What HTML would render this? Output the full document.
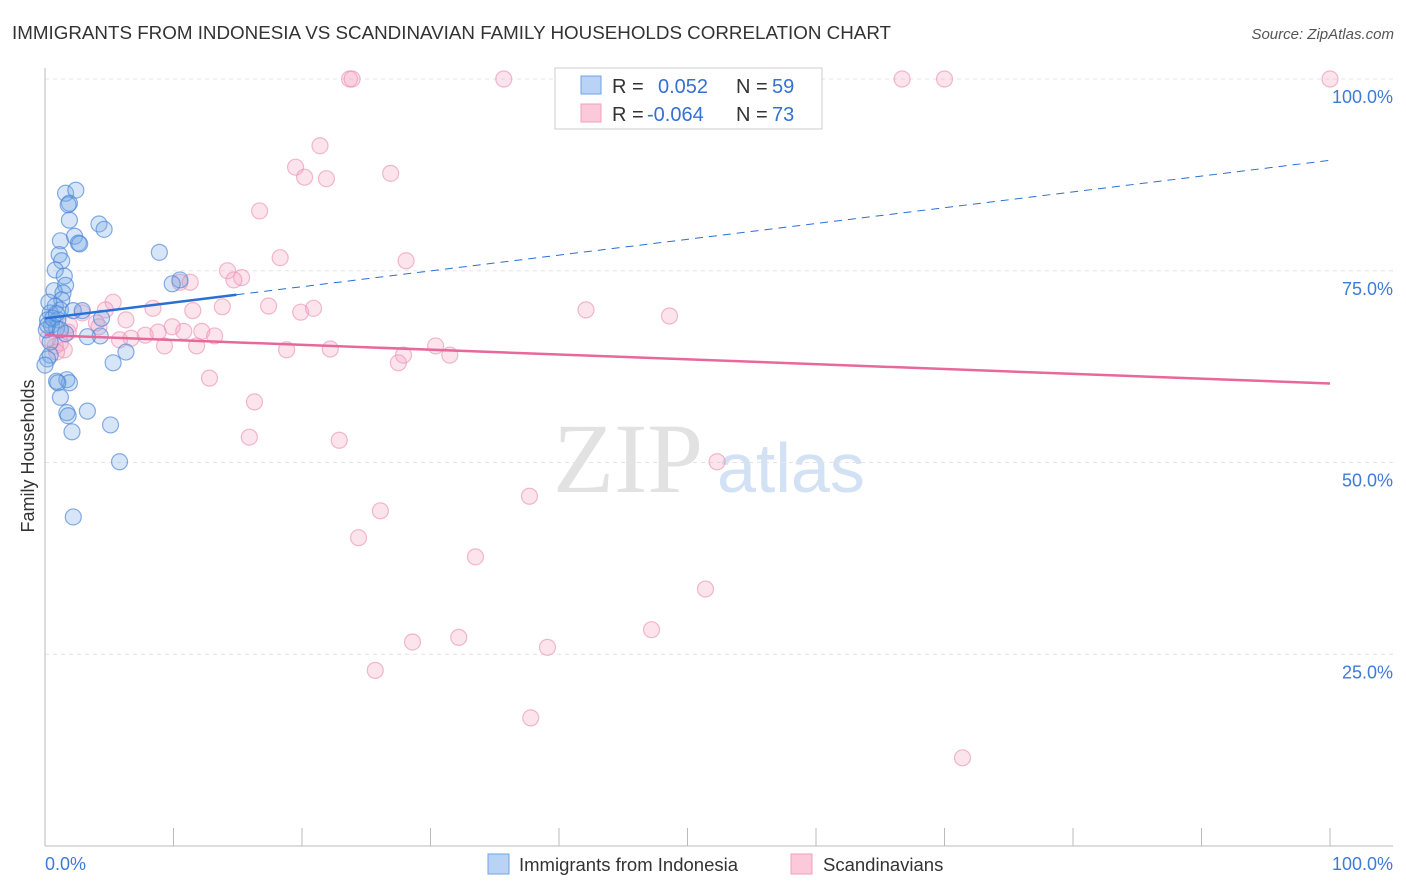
<!DOCTYPE html>
<html><head><meta charset="utf-8"><style>
body{margin:0;background:#fff;font-family:"Liberation Sans",sans-serif;}
svg{display:block}
</style></head><body>
<svg id="c" width="1406" height="892" xmlns="http://www.w3.org/2000/svg">
<text x="12" y="39" font-size="18.8" fill="#333">IMMIGRANTS FROM INDONESIA VS SCANDINAVIAN FAMILY HOUSEHOLDS CORRELATION CHART</text>
<text x="1394" y="39" font-size="15" fill="#555" font-style="italic" text-anchor="end">Source: ZipAtlas.com</text>
<text x="0" y="0" transform="translate(34,456) rotate(-90)" font-size="18" fill="#333" text-anchor="middle">Family Households</text>
<g><text x="553" y="492" font-size="100" fill="#e2e2e2" font-family="Liberation Serif,serif">ZIP</text><text x="717" y="492" font-size="70" fill="#d3e1f4">atlas</text></g>
<g id="grid"></g><g id="axes"></g><g id="pts"></g><g id="trend"></g>
<g>
<rect x="555" y="68" width="267" height="61" fill="#fff" stroke="#ccc"/>
<rect x="581" y="76" width="20" height="18" fill="#b8d3f5" stroke="#6fa3e6"/>
<rect x="581" y="104" width="20" height="18" fill="#fbc9d9" stroke="#f0a0bb"/>
<text x="612" y="93" font-size="20" fill="#333">R =</text><text x="658" y="93" font-size="20" fill="#3570d4">0.052</text>
<text x="736" y="93" font-size="20" fill="#333">N =</text><text x="772" y="93" font-size="20" fill="#3570d4">59</text>
<text x="612" y="121" font-size="20" fill="#333">R =</text><text x="647" y="121" font-size="20" fill="#3570d4">-0.064</text>
<text x="736" y="121" font-size="20" fill="#333">N =</text><text x="772" y="121" font-size="20" fill="#3570d4">73</text>
</g>
<g>
<rect x="488" y="854" width="21" height="20" fill="#b8d3f5" stroke="#6fa3e6"/>
<text x="519" y="871" font-size="18.5" fill="#333">Immigrants from Indonesia</text>
<rect x="791" y="854" width="21" height="20" fill="#fbc9d9" stroke="#f0a0bb"/>
<text x="823" y="871" font-size="18.5" fill="#333">Scandinavians</text>
</g>
</svg>
<script>
const blueX=[1.6,2.4,1.9,1.8,1.9,4.2,4.6,1.2,2.3,2.6,2.7,8.9,1.1,1.3,0.8,1.5,1.6,0.7,1.4,10.5,9.9,1.3,0.8,1.2,2.2,0.4,2.9,4.4,0.2,1.0,0.5,0.9,1.6,4.3,3.3,6.3,0.4,0.2,5.3,1.7,1.9,0.9,1.0,1.2,3.3,1.7,1.8,5.1,2.1,5.8,2.2,0.4,0.1,0.2,0.6,0,1.2,0.3,0.9];
const blueY=[85.1,85.5,83.8,83.6,81.6,81.1,80.4,78.9,79.5,78.6,78.5,77.4,77.1,76.3,75.1,74.3,73.1,72.4,72.1,73.8,73.3,71.2,70.4,69.9,69.8,69.5,69.8,68.8,68.6,68.6,67.9,67.5,66.8,66.5,66.4,64.4,64.0,63.5,63.0,60.8,60.4,60.6,60.4,58.5,56.7,56.5,56.1,54.9,54.0,50.1,42.9,65.7,67.3,67.9,68.8,62.7,67.3,70.9,69.4];
const pinkX=[23.7,23.9,35.7,66.7,70.0,100,21.4,19.5,20.2,21.9,26.9,16.7,18.3,28.1,14.2,15.3,14.7,11.3,10.5,5.3,8.4,11.5,13.8,17.4,19.9,20.9,42.1,48.6,4.7,2.9,6.3,6.7,9.9,10.8,12.2,13.2,7.8,8.8,9.3,11.8,5.8,4.0,1.9,1.2,0.8,1.5,18.8,22.2,27.9,27.5,30.4,31.5,12.8,16.3,15.9,22.9,52.3,37.7,26.1,24.4,33.5,51.4,47.2,32.2,28.6,39.1,25.7,37.8,71.4,1.8,0.9,0.2,4.2];
const pinkY=[100,100,100,100,100,100,91.3,88.5,87.2,87.0,87.7,82.8,76.7,76.3,75.0,74.1,73.8,73.5,73.5,70.9,70.1,69.8,70.3,70.4,69.6,70.1,69.9,69.1,69.9,69.5,68.6,66.2,67.7,67.1,67.1,66.5,66.6,67.0,65.2,65.2,66.0,68.2,67.9,65.6,65.2,64.7,64.7,64.8,64.0,63.0,65.2,64.0,61.0,57.9,53.3,52.9,50.1,45.6,43.7,40.2,37.7,33.5,28.2,27.2,26.6,25.9,22.9,16.7,11.5,67.0,64.4,66.2,67.7];
const yTicks=[25,50,75,100];
const yTickLabels=["25.0%","50.0%","75.0%","100.0%"];
const blueTrend=[68.8,89.4];
const pinkTrend=[66.6,60.3];
const blueSolidEnd=14.9;
const NS="http://www.w3.org/2000/svg";
const sx=v=>45+v*12.85, sy=v=>846-v*7.67;
function mk(t,a,p){const e=document.createElementNS(NS,t);for(const k in a)e.setAttribute(k,a[k]);p.appendChild(e);return e;}
const grid=document.getElementById('grid'),axes=document.getElementById('axes'),pts=document.getElementById('pts'),tr=document.getElementById('trend');
yTicks.forEach((t,i)=>{
 const l=mk('line',{x1:45,x2:1393,y1:sy(t),y2:sy(t),stroke:'#e4e4e4','stroke-dasharray':'4,4'},grid);
 
 
 const tx=mk('text',{x:1393,y:sy(t)+24,'font-size':18,fill:'#3d7bd9','text-anchor':'end'},axes);
 tx.textContent=yTickLabels[i];
 
 
});
mk('line',{x1:45,x2:45,y1:68,y2:846,stroke:'#bbb'},axes);
mk('line',{x1:45,x2:1393,y1:846,y2:846,stroke:'#bbb'},axes);
for(let i=0;i<=10;i++){const t=mk('line',{x1:sx(i*10),x2:sx(i*10),y1:828,y2:846,stroke:'#bbb'},axes);
 
 }
const x0=mk('text',{x:45,y:870,'font-size':18,fill:'#3d7bd9'},axes);x0.textContent='0.0%';


const x1=mk('text',{x:1393,y:870,'font-size':18,fill:'#3d7bd9','text-anchor':'end'},axes);x1.textContent='100.0%';


pinkX.forEach((x,i)=>{const c=mk('circle',{cx:sx(x),cy:sy(pinkY[i]),r:8,fill:'rgba(245,165,195,0.3)',stroke:'rgba(235,140,175,0.6)','stroke-width':1.2},pts);
 
 });
blueX.forEach((x,i)=>{const c=mk('circle',{cx:sx(x),cy:sy(blueY[i]),r:8,fill:'rgba(120,170,230,0.3)',stroke:'rgba(70,130,215,0.65)','stroke-width':1.2},pts);
 
 });
const by=x=>blueTrend[0]+(blueTrend[1]-blueTrend[0])*x/100;
const b1=mk('line',{x1:sx(0),y1:sy(by(0)),x2:sx(blueSolidEnd),y2:sy(by(blueSolidEnd)),stroke:'#2a6fd6','stroke-width':2.5},tr);


const b2=mk('line',{x1:sx(blueSolidEnd),y1:sy(by(blueSolidEnd)),x2:sx(100),y2:sy(by(100)),stroke:'#2a6fd6','stroke-width':1,'stroke-dasharray':'8,6'},tr);


const p1=mk('line',{x1:sx(0),y1:sy(pinkTrend[0]),x2:sx(100),y2:sy(pinkTrend[1]),stroke:'#e8689a','stroke-width':2.5},tr);


</script>
</body></html>
